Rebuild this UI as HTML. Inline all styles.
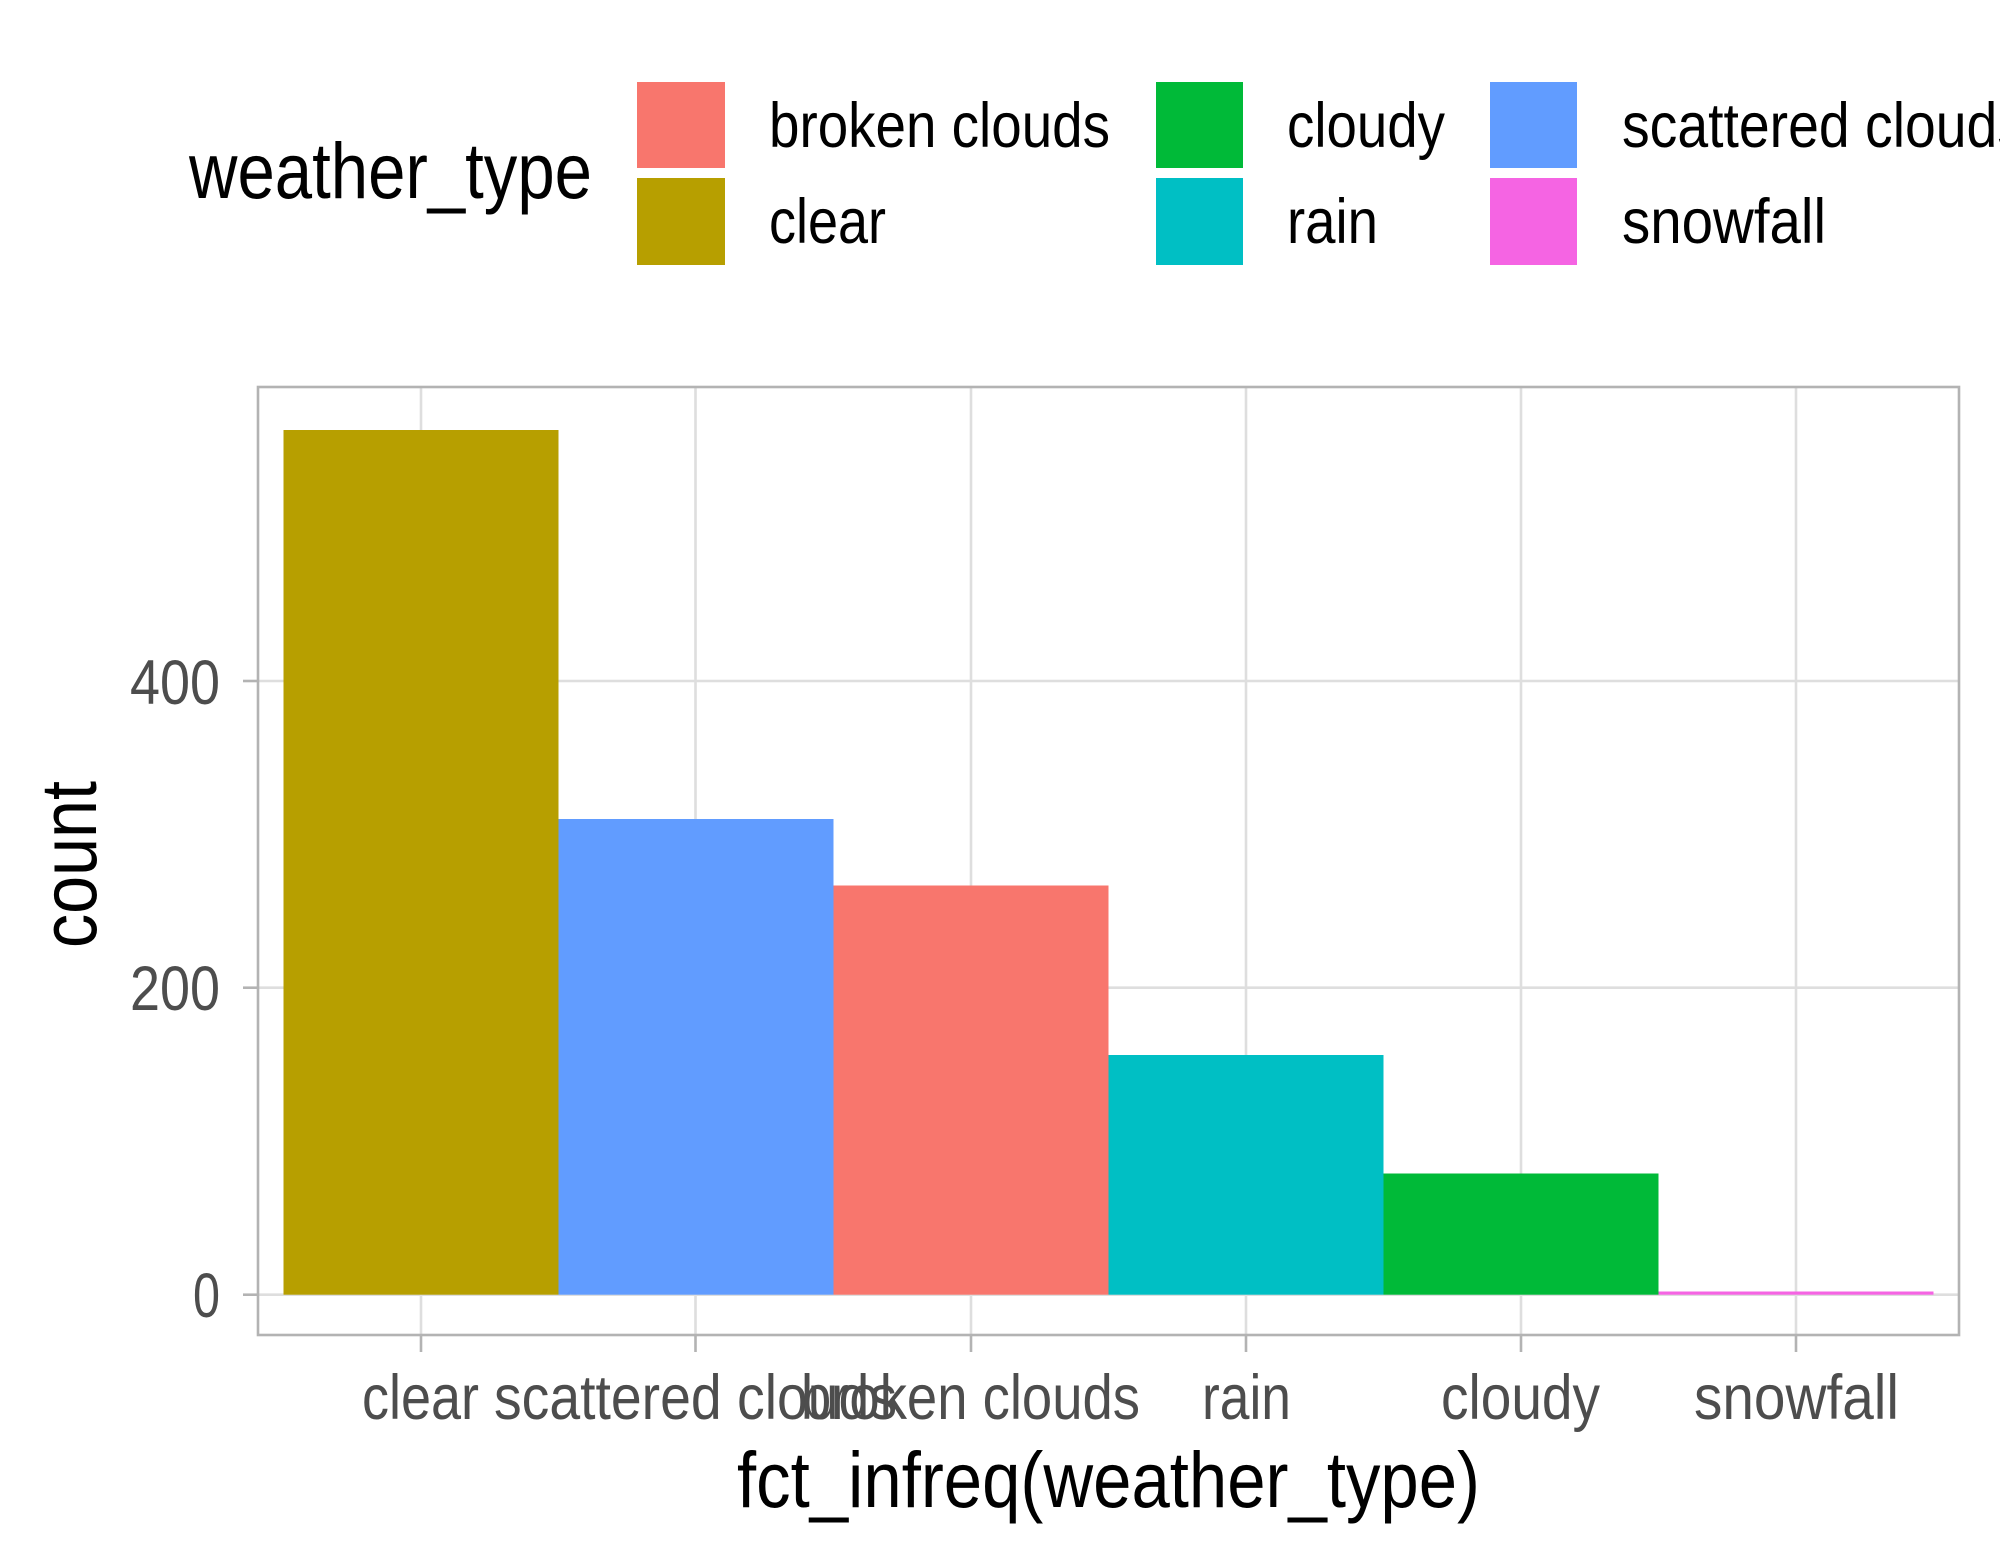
<!DOCTYPE html>
<html><head><meta charset="utf-8"><style>html,body{margin:0;padding:0;background:#fff}svg{display:block}</style></head>
<body>
<svg width="2000" height="1560" viewBox="0 0 2000 1560" xmlns="http://www.w3.org/2000/svg" font-family="Liberation Sans, sans-serif">
<rect width="2000" height="1560" fill="#fff"/>
<g stroke="#dedede" stroke-width="2.6">
<line x1="258" x2="1959" y1="1294.7" y2="1294.7"/>
<line x1="258" x2="1959" y1="987.7" y2="987.7"/>
<line x1="258" x2="1959" y1="681" y2="681"/>
<line x1="421" x2="421" y1="387" y2="1335"/>
<line x1="695.5" x2="695.5" y1="387" y2="1335"/>
<line x1="971" x2="971" y1="387" y2="1335"/>
<line x1="1246" x2="1246" y1="387" y2="1335"/>
<line x1="1521" x2="1521" y1="387" y2="1335"/>
<line x1="1796" x2="1796" y1="387" y2="1335"/>
</g>
<rect x="283.5" y="430" width="275" height="864.7" fill="#B79F00"/>
<rect x="558.5" y="819" width="275" height="475.7" fill="#619CFF"/>
<rect x="833.5" y="885.5" width="275" height="409.2" fill="#F8766D"/>
<rect x="1108.5" y="1055" width="275" height="239.7" fill="#00BFC4"/>
<rect x="1383.5" y="1173.5" width="275" height="121.2" fill="#00BA38"/>
<rect x="1658.5" y="1291.5" width="275" height="3.2" fill="#F564E3"/>
<rect x="258" y="387" width="1701" height="948" fill="none" stroke="#b3b3b3" stroke-width="2.6"/>
<g stroke="#b3b3b3" stroke-width="2.6">
<line x1="243" x2="258" y1="1294.7" y2="1294.7"/>
<line x1="243" x2="258" y1="987.7" y2="987.7"/>
<line x1="243" x2="258" y1="681" y2="681"/>
<line x1="421" x2="421" y1="1335" y2="1352"/>
<line x1="695.5" x2="695.5" y1="1335" y2="1352"/>
<line x1="971" x2="971" y1="1335" y2="1352"/>
<line x1="1246" x2="1246" y1="1335" y2="1352"/>
<line x1="1521" x2="1521" y1="1335" y2="1352"/>
<line x1="1796" x2="1796" y1="1335" y2="1352"/>
</g>
<g fill="#4d4d4d" font-size="63" text-anchor="end">
<text x="220" y="1317" textLength="27" lengthAdjust="spacingAndGlyphs">0</text>
<text x="220" y="1010" textLength="90" lengthAdjust="spacingAndGlyphs">200</text>
<text x="220" y="704" textLength="90" lengthAdjust="spacingAndGlyphs">400</text>
</g>
<g fill="#4d4d4d" font-size="63">
<text x="362" y="1419" textLength="117" lengthAdjust="spacingAndGlyphs">clear</text>
<text x="494" y="1419" textLength="403" lengthAdjust="spacingAndGlyphs">scattered clouds</text>
<text x="801" y="1419" textLength="339" lengthAdjust="spacingAndGlyphs">broken clouds</text>
<text x="1202" y="1419" textLength="89" lengthAdjust="spacingAndGlyphs">rain</text>
<text x="1441" y="1419" textLength="159" lengthAdjust="spacingAndGlyphs">cloudy</text>
<text x="1694" y="1419" textLength="205" lengthAdjust="spacingAndGlyphs">snowfall</text>
</g>
<text x="737" y="1507" font-size="79" fill="#000" textLength="743" lengthAdjust="spacingAndGlyphs">fct_infreq(weather_type)</text>
<text transform="translate(96,948) rotate(-90)" font-size="79" fill="#000" textLength="167" lengthAdjust="spacingAndGlyphs">count</text>
<text x="189" y="198" font-size="79" fill="#000" textLength="403" lengthAdjust="spacingAndGlyphs">weather_type</text>
<rect x="637" y="82" width="88" height="86" fill="#F8766D"/>
<rect x="637" y="178" width="88" height="87" fill="#B79F00"/>
<rect x="1156" y="82" width="87" height="86" fill="#00BA38"/>
<rect x="1156" y="178" width="87" height="87" fill="#00BFC4"/>
<rect x="1490" y="82" width="87" height="86" fill="#619CFF"/>
<rect x="1490" y="178" width="87" height="87" fill="#F564E3"/>
<g fill="#000" font-size="63">
<text x="769" y="147" textLength="341" lengthAdjust="spacingAndGlyphs">broken clouds</text>
<text x="769" y="243" textLength="117" lengthAdjust="spacingAndGlyphs">clear</text>
<text x="1287" y="147" textLength="158" lengthAdjust="spacingAndGlyphs">cloudy</text>
<text x="1287" y="243" textLength="91" lengthAdjust="spacingAndGlyphs">rain</text>
<text x="1622" y="147" textLength="403" lengthAdjust="spacingAndGlyphs">scattered clouds</text>
<text x="1622" y="243" textLength="204" lengthAdjust="spacingAndGlyphs">snowfall</text>
</g>
</svg>
</body></html>
